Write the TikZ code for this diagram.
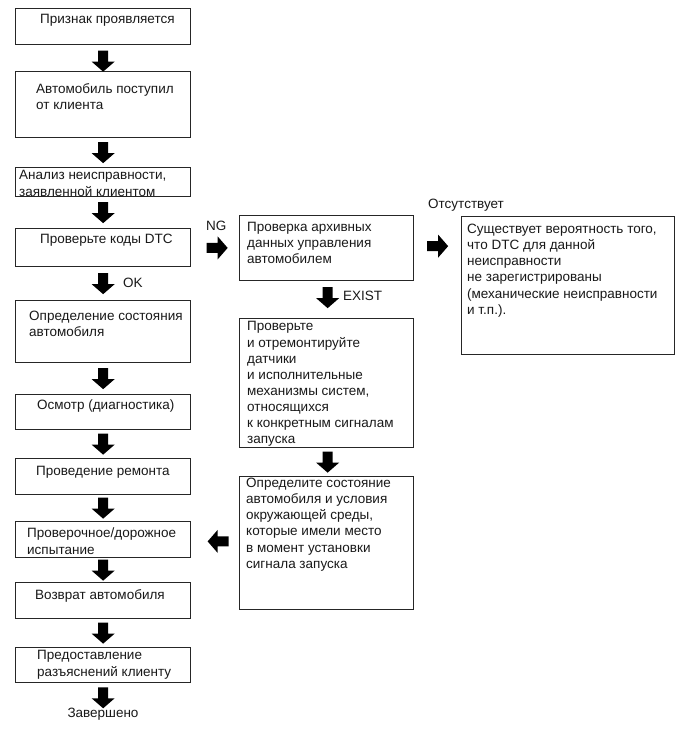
\documentclass[tikz,border=0pt]{standalone}
\usepackage{fontspec}
\setmainfont{Liberation Sans}
\usetikzlibrary{calc}
\tikzset{
  box/.style={draw=black!85, line width=1.3pt, fill=white, inner sep=0pt, anchor=north west},
  txt/.style={anchor=north west, inner sep=0pt, align=left, font=\fontsize{13.5}{16.1}\selectfont, text=black!90},
  lbl/.style={inner sep=0pt, font=\fontsize{13.5}{16.1}\selectfont, text=black!90},
  darrow/.pic={\fill[black] (-10.5,-5) -- (0.5,-5) -- (0.5,-11.5) -- (10.5,0) -- (0.5,11.5) -- (0.5,5) -- (-10.5,5) -- cycle;}
}
\begin{document}
\begin{tikzpicture}[x=1pt,y=-1pt]
\useasboundingbox[fill=white] (0,0) rectangle (689,756);
% left column boxes
\node[box, minimum width=175pt, minimum height=36pt] (b1) at (15,8) {};
\node[box, minimum width=175pt, minimum height=66pt] (b2) at (15,71) {};
\node[box, minimum width=175pt, minimum height=29pt] (b3) at (15,167) {};
\node[box, minimum width=175pt, minimum height=38pt] (b4) at (15,228) {};
\node[box, minimum width=175pt, minimum height=62pt] (b5) at (15,300) {};
\node[box, minimum width=175pt, minimum height=35pt] (b6) at (15,394) {};
\node[box, minimum width=175pt, minimum height=36pt] (b7) at (15,458) {};
\node[box, minimum width=175pt, minimum height=36pt] (b8) at (15,521) {};
\node[box, minimum width=175pt, minimum height=36pt] (b9) at (15,582) {};
\node[box, minimum width=175pt, minimum height=35pt] (b10) at (15,647) {};
% right boxes
\node[box, minimum width=174pt, minimum height=65pt] (bA) at (239,215) {};
\node[box, minimum width=174pt, minimum height=129pt] (bB) at (239,318) {};
\node[box, minimum width=174pt, minimum height=133pt] (bC) at (239,476) {};
\node[box, minimum width=213pt, minimum height=138pt] (bD) at (461,216) {};
% texts
\node[txt] (t1) at ($(b1.north west)+(25,6)$) {Признак проявляется};
\node[txt] (t2) at ($(b2.north west)+(21,12)$) {Автомобиль поступил\\от клиента};
\node[txt] (t3) at ($(b3.north west)+(4,3.5)$) {Анализ неисправности,\\заявленной клиентом};
\node[txt] (t4) at ($(b4.north west)+(25,6)$) {Проверьте коды DTC};
\node[txt] (t5) at ($(b5.north west)+(14,11)$) {Определение состояния\\автомобиля};
\node[txt] (t6) at ($(b6.north west)+(22,6)$) {Осмотр (диагностика)};
\node[txt] (t7) at ($(b7.north west)+(21,8)$) {Проведение ремонта};
\node[txt] (t8) at ($(b8.north west)+(12,7)$) {Проверочное/дорожное\\испытание};
\node[txt] (t9) at ($(b9.north west)+(20,7)$) {Возврат автомобиля};
\node[txt] (t10) at ($(b10.north west)+(22,3.5)$) {Предоставление\\разъяснений клиенту};
\node[txt] (tA) at ($(bA.north west)+(8,7)$) {Проверка архивных\\данных управления\\автомобилем};
\node[txt] (tB) at ($(bB.north west)+(8,3.5)$) {Проверьте\\и отремонтируйте\\датчики\\и исполнительные\\механизмы систем,\\относящихся\\к конкретным сигналам\\запуска};
\node[txt] (tC) at ($(bC.north west)+(7,2)$) {Определите состояние\\автомобиля и условия\\окружающей среды,\\которые имели место\\в момент установки\\сигнала запуска};
\node[txt] (tD) at ($(bD.north west)+(6,8)$) {Существует вероятность того,\\что DTC для данной\\неисправности\\не зарегистрированы\\(механические неисправности\\и т.п.).};
% labels
\node[lbl, anchor=west] (lok) at (123,283) {OK};
\node[lbl, anchor=west] (lex) at (343,296) {EXIST};
\node[lbl, anchor=west] (lng) at (206,226) {NG};
\node[lbl, anchor=west] (lab) at (428,205) {Отсутствует};
\node[lbl] (fin) at (103,714) {Завершено};
% arrows
\pic[rotate=-90] at ($(b1.south)!0.5!(b2.north)+(0,3)$) {darrow};
\pic[rotate=-90] at ($(b2.south)!0.5!(b3.north)$) {darrow};
\pic[rotate=-90] at ($(b3.south)!0.5!(b4.north)$) {darrow};
\pic[rotate=-90] at ($(b4.south)!0.5!(b5.north)$) {darrow};
\pic[rotate=-90] at ($(b5.south)!0.5!(b6.north)$) {darrow};
\pic[rotate=-90] at ($(b6.south)!0.5!(b7.north)$) {darrow};
\pic[rotate=-90] at ($(b7.south)!0.5!(b8.north)$) {darrow};
\pic[rotate=-90] at ($(b8.south)!0.5!(b9.north)$) {darrow};
\pic[rotate=-90] at ($(b9.south)!0.5!(b10.north)$) {darrow};
\pic[rotate=-90] at ($(b10.south)+(0,14.5)$) {darrow};
\pic at ($(b4.east)!0.5!(bA.west)+(2,0)$) {darrow};
\pic at ($(bA.east)!0.5!(bA.east -| bD.west)+(0,-2)$) {darrow};
\pic[rotate=-90] at ($(bA.south)!0.5!(bB.north)+(1,-2)$) {darrow};
\pic[rotate=-90] at ($(bB.south)!0.5!(bC.north)+(1,0)$) {darrow};
\pic[rotate=180] at ($(b8.east)!0.5!(bC.west)+(3,0)$) {darrow};
\end{tikzpicture}
\end{document}
